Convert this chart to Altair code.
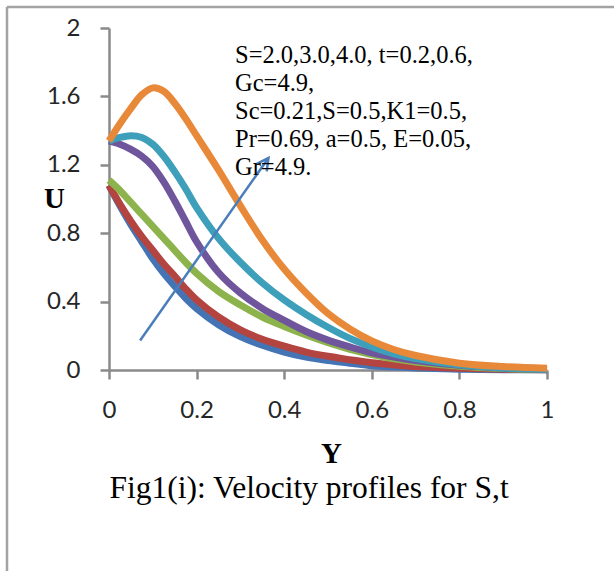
import altair as alt
import pandas as pd

# Sample positions along Y shared by every velocity profile
Y = [0, 0.025, 0.05, 0.075, 0.1, 0.125, 0.15, 0.175, 0.2, 0.25, 0.3, 0.35, 0.4, 0.45,
     0.5, 0.55, 0.6, 0.65, 0.7, 0.8, 0.9, 1.0]

# Velocity U for each profile
U_1 = [1.08, 0.96, 0.85, 0.75, 0.65, 0.565, 0.49, 0.42, 0.36, 0.265, 0.195, 0.145, 0.105, 0.075,
       0.055, 0.04, 0.025, 0.018, 0.012, 0.005, 0.002, 0.001]
U_2 = [1.08, 0.97, 0.87, 0.78, 0.70, 0.62, 0.55, 0.475, 0.41, 0.31, 0.235, 0.18, 0.14, 0.105,
       0.08, 0.06, 0.042, 0.03, 0.02, 0.01, 0.004, 0.002]
U_3 = [1.11, 1.05, 0.98, 0.91, 0.84, 0.77, 0.70, 0.63, 0.565, 0.46, 0.38, 0.31, 0.255, 0.205,
       0.16, 0.12, 0.09, 0.065, 0.047, 0.022, 0.009, 0.003]
U_4 = [1.34, 1.32, 1.29, 1.25, 1.19, 1.10, 0.99, 0.87, 0.75, 0.57, 0.45, 0.36, 0.29, 0.225,
       0.175, 0.135, 0.10, 0.075, 0.055, 0.027, 0.012, 0.005]
U_5 = [1.34, 1.36, 1.37, 1.36, 1.32, 1.25, 1.16, 1.06, 0.95, 0.77, 0.63, 0.51, 0.41, 0.325,
       0.25, 0.185, 0.135, 0.095, 0.067, 0.03, 0.012, 0.005]
U_6 = [1.34, 1.44, 1.53, 1.61, 1.65, 1.63, 1.56, 1.47, 1.37, 1.17, 0.96, 0.76, 0.59, 0.45,
       0.33, 0.24, 0.17, 0.12, 0.085, 0.04, 0.02, 0.01]

SERIES = ["profile 1", "profile 2", "profile 3", "profile 4", "profile 5", "profile 6"]
COLORS = ["#4574b4", "#b34440", "#8db34c", "#6f559b", "#3d9fb9", "#e8893a"]

X_TICKS = [0, 0.2, 0.4, 0.6, 0.8, 1]
U_TICKS = [0, 0.4, 0.8, 1.2, 1.6, 2]

# Arrow showing the direction of increasing S and t
ARROW_Y = [0.071, 0.364]
ARROW_U = [0.172, 1.24]

NOTE_LINES = [
    "S=2.0,3.0,4.0, t=0.2,0.6,",
    "Gc=4.9,",
    "Sc=0.21,S=0.5,K1=0.5,",
    "Pr=0.69, a=0.5, E=0.05,",
    "Gr=4.9.",
]
CAPTION = "Fig1(i): Velocity profiles for S,t"

rows = []
for name, values in zip(SERIES, [U_1, U_2, U_3, U_4, U_5, U_6]):
    for y, u in zip(Y, values):
        rows.append({"series": name, "Y": y, "U": u})
profiles = pd.DataFrame(rows)

arrow = pd.DataFrame({"Y": [ARROW_Y[0]], "U": [ARROW_U[0]], "Y2": [ARROW_Y[1]], "U2": [ARROW_U[1]]})
one = pd.DataFrame({"k": [0]})

AXIS_GRAY = "#8a8a8a"
SERIF = "Liberation Serif"
ARROW_BLUE = "#4a7ebb"

x_scale = alt.Scale(domain=[0, 1], nice=False, zero=False)
y_scale = alt.Scale(domain=[0, 2], nice=False)

x_axis = alt.Axis(
    values=X_TICKS, format=".1~f", grid=False, labelFlush=False,
    domainColor=AXIS_GRAY, domainWidth=2.5, tickColor=AXIS_GRAY, tickWidth=2.5, tickSize=9,
    labelFont="Lato", labelFontSize=24, labelColor="#262626", labelPadding=19,
    title="Y", titleFont=SERIF, titleFontSize=29, titleFontWeight="bold", titleColor="#000000",
    titleX=222, titleY=92, titleAlign="center", titleBaseline="alphabetic",
)
y_axis = alt.Axis(
    values=U_TICKS, format=".1~f", grid=False, labelFlush=False,
    domainColor=AXIS_GRAY, domainWidth=2.5, tickColor=AXIS_GRAY, tickWidth=2.5, tickSize=9,
    labelFont="Lato", labelFontSize=24, labelColor="#262626", labelPadding=20,
    title="U", titleFont=SERIF, titleFontSize=29, titleFontWeight="bold", titleColor="#000000",
    titleAngle=0, titleX=-55, titleY=179, titleAlign="center", titleBaseline="alphabetic",
)

lines = alt.Chart(profiles).mark_line(strokeWidth=7, interpolate="catmull-rom", strokeCap="butt").encode(
    x=alt.X("Y:Q", scale=x_scale, axis=x_axis),
    y=alt.Y("U:Q", scale=y_scale, axis=y_axis),
    color=alt.Color("series:N", scale=alt.Scale(domain=SERIES, range=COLORS), legend=None),
)

shaft = alt.Chart(arrow).mark_rule(color=ARROW_BLUE, strokeWidth=2.5).encode(
    x=alt.X("Y:Q", title="Y"), y=alt.Y("U:Q", title="U"), x2="Y2:Q", y2="U2:Q"
)
head = alt.Chart(arrow).mark_point(
    shape="M-0.53,1L0,0L0.53,1", filled=False, size=576, angle=35,
    strokeWidth=2.5, color=ARROW_BLUE, opacity=1,
).encode(x=alt.X("Y2:Q", title="Y"), y=alt.Y("U2:Q", title="U"))

note = alt.Chart(one).mark_text(
    text=NOTE_LINES, font=SERIF, fontSize=24.5, lineHeight=28,
    align="left", baseline="alphabetic", color="#000000",
).encode(x=alt.value(126), y=alt.value(35))

caption = alt.Chart(one).mark_text(
    text=CAPTION, font=SERIF, fontSize=31.5, align="center", baseline="alphabetic", color="#000000",
).encode(x=alt.value(200), y=alt.value(470))

frame_top = alt.Chart(one).mark_rule(color="#a3a3a3", strokeWidth=2.5).encode(
    x=alt.value(-102), x2=alt.value(505), y=alt.value(-21)
)
frame_left = alt.Chart(one).mark_rule(color="#a3a3a3", strokeWidth=2.5).encode(
    x=alt.value(-102), y=alt.value(-21), y2=alt.value(543)
)

chart = alt.layer(frame_top, frame_left, lines, shaft, head, note, caption).properties(
    width=438, height=342,
    autosize=alt.AutoSizeParams(type="none"),
    padding={"left": 109, "top": 28, "right": 67, "bottom": 201},
    background="#ffffff",
).configure_view(stroke=None)

chart.save("out.html", embed_options={"renderer": "svg", "actions": False})
